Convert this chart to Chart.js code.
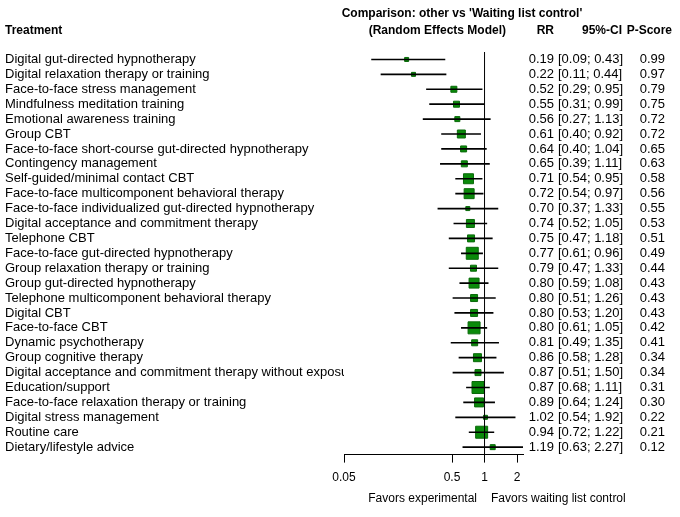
<!DOCTYPE html>
<html>
<head>
<meta charset="utf-8">
<script src="https://cdn.jsdelivr.net/npm/chart.js@4"></script>
<style>
  body { margin: 0; background: #fff; }
  #wrap { width: 680px; height: 517px; }
</style>
</head>
<body>
<div id="wrap"><canvas id="forest"></canvas></div>
<script>
const TREATMENTS = [
    'Digital gut-directed hypnotherapy',
    'Digital relaxation therapy or training',
    'Face-to-face stress management',
    'Mindfulness meditation training',
    'Emotional awareness training',
    'Group CBT',
    'Face-to-face short-course gut-directed hypnotherapy',
    'Contingency management',
    'Self-guided/minimal contact CBT',
    'Face-to-face multicomponent behavioral therapy',
    'Face-to-face individualized gut-directed hypnotherapy',
    'Digital acceptance and commitment therapy',
    'Telephone CBT',
    'Face-to-face gut-directed hypnotherapy',
    'Group relaxation therapy or training',
    'Group gut-directed hypnotherapy',
    'Telephone multicomponent behavioral therapy',
    'Digital CBT',
    'Face-to-face CBT',
    'Dynamic psychotherapy',
    'Group cognitive therapy',
    'Digital acceptance and commitment therapy without exposure',
    'Education/support',
    'Face-to-face relaxation therapy or training',
    'Digital stress management',
    'Routine care',
    'Dietary/lifestyle advice',
];
const RR = [0.19, 0.22, 0.52, 0.55, 0.56, 0.61, 0.64, 0.65, 0.71, 0.72, 0.70, 0.74, 0.75, 0.77, 0.79, 0.80, 0.80, 0.80, 0.80, 0.81, 0.86, 0.87, 0.87, 0.89, 1.02, 0.94, 1.19];
const LOWER = [0.09, 0.11, 0.29, 0.31, 0.27, 0.40, 0.40, 0.39, 0.54, 0.54, 0.37, 0.52, 0.47, 0.61, 0.47, 0.59, 0.51, 0.53, 0.61, 0.49, 0.58, 0.51, 0.68, 0.64, 0.54, 0.72, 0.63];
const UPPER = [0.43, 0.44, 0.95, 0.99, 1.13, 0.92, 1.04, 1.11, 0.95, 0.97, 1.33, 1.05, 1.18, 0.96, 1.33, 1.08, 1.26, 1.20, 1.05, 1.35, 1.28, 1.50, 1.11, 1.24, 1.92, 1.22, 2.27];
const PSCORE = [0.99, 0.97, 0.79, 0.75, 0.72, 0.72, 0.65, 0.63, 0.58, 0.56, 0.55, 0.53, 0.51, 0.49, 0.44, 0.43, 0.43, 0.43, 0.42, 0.41, 0.34, 0.34, 0.31, 0.30, 0.22, 0.21, 0.12];
const BOX = [2, 2, 3, 3, 2.5, 4, 3, 3, 5, 5, 2, 4, 3.5, 6, 3, 5, 3.5, 3.5, 6, 3, 4, 3, 6, 4.5, 2, 6, 2.5];
const X_TICKS = [0.05, 0.5, 1, 2];

const FONT = 'Arial, "Liberation Sans", sans-serif';

const textPlugin = {
    id: 'forestText',
    afterDraw(chart) {
        const ctx = chart.ctx;
        const x = chart.scales.x, y = chart.scales.y;
        ctx.save();
        // reference line at RR = 1
        const x1 = x.getPixelForValue(1);
        ctx.strokeStyle = '#000';
        ctx.lineWidth = 1;
        ctx.beginPath();
        ctx.moveTo(x1, 52);
        ctx.lineTo(x1, chart.chartArea.bottom);
        ctx.stroke();

        ctx.fillStyle = '#000';
        ctx.textBaseline = 'middle';
        ctx.font = '13px ' + FONT;
        TREATMENTS.forEach((t, i) => {
            const py = y.getPixelForValue(i);
            ctx.textAlign = 'right';
            ctx.fillText(RR[i].toFixed(2), 554, py);
            ctx.textAlign = 'left';
            ctx.fillText('[' + LOWER[i].toFixed(2) + '; ' + UPPER[i].toFixed(2) + ']', 558, py);
            ctx.textAlign = 'right';
            ctx.fillText(PSCORE[i].toFixed(2), 665, py);
        });

        ctx.font = 'bold 12px ' + FONT;
        ctx.textAlign = 'left';
        ctx.fillText('Treatment', 5, 31);
        ctx.textAlign = 'center';
        ctx.fillText("Comparison: other vs 'Waiting list control'", 462, 14);
        ctx.textAlign = 'right';
        ctx.fillText('(Random Effects Model)', 506, 31);
        ctx.fillText('RR', 554, 31);
        ctx.fillText('95%-CI', 622, 31);
        ctx.fillText('P-Score', 672, 31);

        ctx.font = '12px ' + FONT;
        ctx.textAlign = 'right';
        ctx.fillText('Favors experimental', 477, 499);
        ctx.textAlign = 'left';
        ctx.fillText('Favors waiting list control', 491, 499);
        ctx.restore();
    },
};

new Chart(document.getElementById('forest'), {
    type: 'bar',
    data: {
        labels: TREATMENTS,
        datasets: [
            {
                type: 'bar',
                data: TREATMENTS.map((_, i) => [LOWER[i], UPPER[i]]),
                backgroundColor: '#000',
                barThickness: 1,
                order: 0,
            },
            {
                type: 'line',
                data: TREATMENTS.map((t, i) => ({ x: RR[i], y: t })),
                showLine: false,
                pointStyle: 'rect',
                pointRadius: BOX.map(b => b * 1.414),
                pointBackgroundColor: '#0a8a0a',
                pointBorderColor: '#0a6a0a',
                pointBorderWidth: 1,
                order: 1,
            },
        ],
    },
    options: {
        indexAxis: 'y',
        responsive: true,
        maintainAspectRatio: false,
        animation: false,
        layout: { padding: { top: 52, right: 157, left: 5, bottom: 24 } },
        plugins: { legend: { display: false }, tooltip: { enabled: false } },
        scales: {
            x: {
                type: 'logarithmic',
                min: 0.05,
                max: 2.27,
                afterBuildTicks: s => { s.ticks = X_TICKS.map(v => ({ value: v })); },
                grid: { display: true, drawOnChartArea: false, drawTicks: true, tickLength: 8, tickColor: '#000' },
                border: { color: '#000' },
                ticks: { color: '#000', padding: 8, font: { size: 12, family: FONT }, callback: v => String(v), maxRotation: 0, autoSkip: false },
            },
            y: {
                type: 'category',
                offset: true,
                afterFit: s => { s.width = 339; },
                grid: { display: false, drawTicks: false },
                border: { display: false },
                ticks: { color: '#000', crossAlign: 'far', padding: 0, font: { size: 13, family: FONT }, autoSkip: false },
            },
        },
    },
    plugins: [textPlugin],
});
</script>
</body>
</html>
